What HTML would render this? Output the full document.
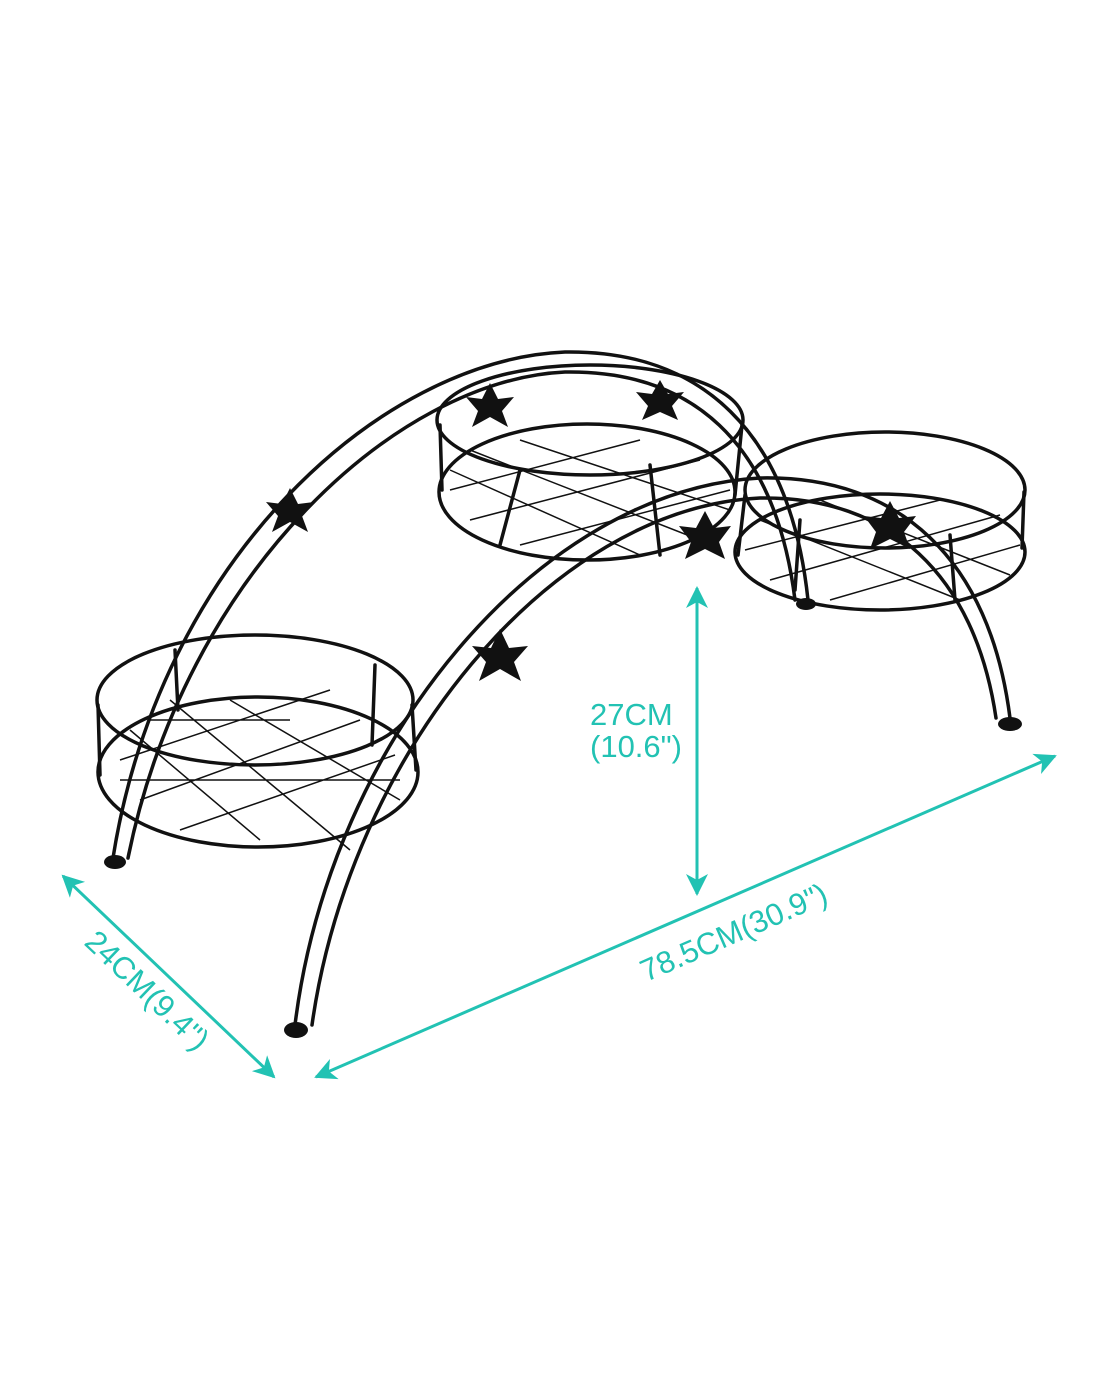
<!DOCTYPE html>
<html><head><meta charset="utf-8"><style>
html,body{margin:0;padding:0;background:#fff}
svg{display:block}
.t{font-family:"Liberation Sans",sans-serif;fill:#22c2b3;font-size:31px}
</style></head><body>
<svg width="1100" height="1375" viewBox="0 0 1100 1375" xmlns="http://www.w3.org/2000/svg">
<defs>
<marker id="ah" markerWidth="24" markerHeight="24" refX="20" refY="11" orient="auto-start-reverse" markerUnits="userSpaceOnUse">
<path d="M0,0 L22,11 L0,22 L6,11 Z" fill="#22c2b3"/></marker>
</defs>
<g fill="none" stroke="#111" stroke-width="3.5" stroke-linecap="round">
<path d="M113,858 C160,560 380,360 565,352 C700,350 790,430 808,600"/>
<path d="M128,858 C185,575 395,380 565,372 C690,370 775,440 795,600"/>
<ellipse cx="590" cy="420" rx="153" ry="55"/>
<ellipse cx="587" cy="492" rx="148" ry="68"/>
<line x1="440" y1="425" x2="442" y2="490"/><line x1="742" y1="425" x2="735" y2="495"/>
<line x1="520" y1="470" x2="500" y2="545"/><line x1="650" y1="465" x2="660" y2="555"/>
<ellipse cx="885" cy="490" rx="140" ry="58"/>
<ellipse cx="880" cy="552" rx="145" ry="58"/>
<line x1="745" y1="495" x2="738" y2="555"/><line x1="1024" y1="492" x2="1022" y2="548"/>
<line x1="800" y1="520" x2="795" y2="590"/><line x1="950" y1="535" x2="955" y2="600"/>
<ellipse cx="255" cy="700" rx="158" ry="65"/>
<ellipse cx="258" cy="772" rx="160" ry="75"/>
<line x1="98" y1="705" x2="100" y2="775"/><line x1="412" y1="705" x2="416" y2="770"/>
<line x1="175" y1="650" x2="178" y2="710"/><line x1="375" y1="665" x2="372" y2="745"/>
<path d="M295,1025 C330,740 540,490 760,478 C900,475 990,560 1010,718"/>
<path d="M312,1025 C350,755 550,508 760,498 C890,496 975,575 996,718"/>
</g>
<g stroke="#111" stroke-width="1.5">
<path d="M120,760 L330,690 M140,800 L360,720 M180,830 L395,755 M150,720 L290,720 M120,780 L400,780 M170,700 L350,850 M230,700 L400,800 M130,730 L260,840"/>
<path d="M450,490 L640,440 M470,520 L700,460 M520,545 L730,490 M470,450 L700,540 M520,440 L730,510 M450,470 L640,555"/>
<path d="M745,550 L940,500 M770,580 L1000,515 M830,600 L1020,545 M760,520 L960,600 M820,500 L1010,575"/>
</g>
<g fill="#111">
<ellipse cx="115" cy="862" rx="11" ry="7"/><ellipse cx="296" cy="1030" rx="12" ry="8"/>
<ellipse cx="1010" cy="724" rx="12" ry="7"/><ellipse cx="806" cy="604" rx="10" ry="6"/>
<g transform="translate(290,510)"><path d="M0,-22 L8,-6 L24,-8 L12,6 L18,22 L0,12 L-18,22 L-12,6 L-24,-8 L-8,-6Z"/></g>
<g transform="translate(490,405)"><path d="M0,-22 L8,-6 L24,-8 L12,6 L18,22 L0,12 L-18,22 L-12,6 L-24,-8 L-8,-6Z"/></g>
<g transform="translate(660,400)"><path d="M0,-20 L8,-6 L24,-8 L12,6 L18,20 L0,12 L-18,20 L-12,6 L-24,-8 L-8,-6Z"/></g>
<g transform="translate(500,655)"><path d="M0,-26 L9,-7 L28,-9 L14,7 L21,26 L0,14 L-21,26 L-14,7 L-28,-9 L-9,-7Z"/></g>
<g transform="translate(705,535)"><path d="M0,-24 L9,-7 L26,-9 L14,7 L20,24 L0,14 L-20,24 L-14,7 L-26,-9 L-9,-7Z"/></g>
<g transform="translate(890,525)"><path d="M0,-24 L9,-7 L26,-9 L14,7 L20,24 L0,14 L-20,24 L-14,7 L-26,-9 L-9,-7Z"/></g>
</g>
<g stroke="#22c2b3" stroke-width="3" fill="none">
<line x1="697" y1="588" x2="697" y2="894" marker-start="url(#ah)" marker-end="url(#ah)"/>
<line x1="316" y1="1077" x2="1055" y2="756" marker-start="url(#ah)" marker-end="url(#ah)"/>
<line x1="63" y1="876" x2="274" y2="1077" marker-start="url(#ah)" marker-end="url(#ah)"/>
</g>
<text class="t" x="590" y="725">27CM</text>
<text class="t" x="590" y="757">(10.6")</text>
<text class="t" x="0" y="0" text-anchor="middle" transform="translate(738,942) rotate(-23.6)">78.5CM(30.9")</text>
<text class="t" x="0" y="0" text-anchor="middle" transform="translate(140,998) rotate(43.6)">24CM(9.4")</text>
</svg>
</body></html>
